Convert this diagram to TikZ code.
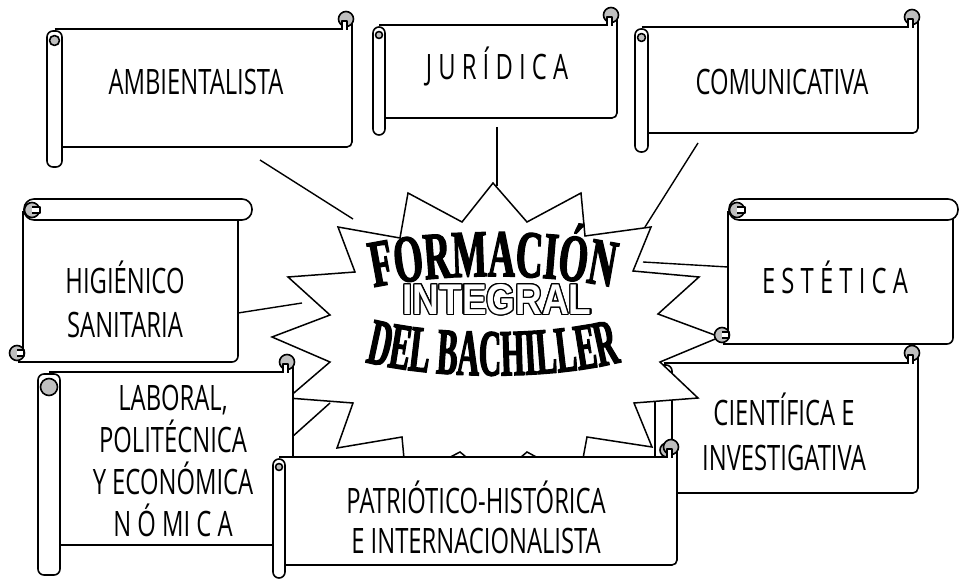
\documentclass[tikz,border=0pt]{standalone}
\usepackage{fontspec}
\usepackage{contour}
\usetikzlibrary{decorations.text}

\newfontfamily\scrollfont[FakeStretch=0.68]{Open Sans}
\newfontfamily\formfont[FakeStretch=0.56,BoldFeatures={FakeBold=1.8}]{Liberation Serif}
\newfontfamily\bachfont[FakeStretch=0.47,BoldFeatures={FakeBold=1.8}]{Liberation Serif}
\newfontfamily\integralfont[FakeStretch=0.86]{Liberation Sans}
\definecolor{curlgray}{gray}{0.75}

% banner scroll: left x, roll width, top y, right x, bottom y, roll end y
\newcommand\bannerscroll[6]{%
  \fill[white] (#1+#2,#3) rectangle (#4,#5);
  \draw[scroll] (#1+#2/2,#3) -- (#4-8,#3);
  \draw[scroll,rounded corners=5] (#4,#3-9) -- (#4,#5) -- (#1+#2,#5);
  \draw[scroll,fill=white,rounded corners=6] (#1,#3+2) rectangle (#1+#2,#6);
  \draw[scroll,fill=curlgray] (#1+#2/2,#3+#2/2+4) circle (#2/2-2.5);
  \draw[scroll,fill=curlgray] (#4-6,#3-10) circle (7.5);
  \draw[scroll,fill=white] (#4-10,#3+0.8) -- (#4-10,#3-8) -- (#4-5,#3-8) -- (#4-5,#3+0.8);
}
% page scroll: left x, top y, roll right x, body right x, bottom y
\newcommand\pagescroll[5]{%
  \fill[white] (#1,#2+10) rectangle (#4,#5);
  \draw[scroll,rounded corners=6] (#4,#2+15) -- (#4,#5) -- (#1-5,#5);
  \draw[scroll] (#1,#2+12) -- (#1,#5-12);
  \draw[scroll,fill=white,rounded corners=10] (#1+1,#2) rectangle (#3,#2+21);
  \draw[scroll,fill=curlgray] (#1+9,#2+11) circle (7.5);
  \draw[scroll,fill=white] (#1+9,#2+8) -- (#1+17,#2+8) -- (#1+17,#2+14) -- (#1+9,#2+14);
  \draw[scroll,fill=curlgray] (#1-6,#5-9) circle (7.5);
  \draw[scroll,fill=white] (#1-6,#5-12) -- (#1+1,#5-12) -- (#1+1,#5-6) -- (#1-6,#5-6);
}

\begin{document}
\begin{tikzpicture}[x=1pt,y=-1pt,
  scroll/.style={line width=1.6pt,line join=round},
  link/.style={line width=1.4pt},
  burst/.style={line width=1.5pt,line join=miter,fill=white},
  lbl/.style={font=\scrollfont\fontsize{35}{44}\selectfont,align=center,inner sep=0pt}]
\useasboundingbox (0,0) rectangle (962,583);

\coordinate (amb-end) at (260,160);
\coordinate (jur-end) at (497,127);
\coordinate (com-end) at (698,143);
\coordinate (hig-end) at (238,313);
\coordinate (est-end) at (728,267);
\coordinate (burst-nw) at (353,219);
\coordinate (burst-n) at (497,186);
\coordinate (burst-ne) at (645,227);
\coordinate (burst-w) at (302,303);
\coordinate (burst-e) at (643,262);

\draw[link] (amb-end) -- (burst-nw);
\draw[link] (jur-end) -- (burst-n);
\draw[link] (com-end) -- (burst-ne);
\draw[link] (hig-end) -- (burst-w);
\draw[link] (burst-e) -- (est-end);

\bannerscroll{47}{15}{29}{352}{147}{167}
\bannerscroll{373}{12}{25}{617}{118}{135}
\bannerscroll{635}{13}{27}{918}{133}{152}
\pagescroll{23}{199}{252}{238}{362}
\bannerscroll{655}{17}{363}{918}{493}{520}
\draw[scroll,fill=curlgray] (667,450) circle (7);

% the burst
\draw[burst] (493,183) -- (527,222) -- (581,193) -- (585,236) -- (651,227)
  -- (633,271) -- (699,277) -- (658,314) -- (720,337) -- (660,362)
  -- (698,398) -- (634,403) -- (652,447) -- (587,437) -- (579,480)
  -- (527,452) -- (494,480) -- (460,452) -- (406,480) -- (402,437)
  -- (337,448) -- (353,403) -- (288,398) -- (330,362) -- (272,337)
  -- (330,315) -- (288,277) -- (355,272) -- (338,227) -- (400,238)
  -- (408,193) -- (462,222) -- cycle;
\draw[burst] (330,403) -- (292,437);

\pagescroll{728}{199}{958}{953}{344}
\bannerscroll{38}{22}{372}{293}{545}{575}
\bannerscroll{273}{12}{457}{677}{565}{578}

\node[lbl] (amb) at (196,82) {AMBIENTALISTA};
\node[lbl] (jur) at (497,66) {J U R Í D I C A};
\node[lbl] (com) at (782,82) {COMUNICATIVA};
\node[lbl] (hig) at (125,299) {HIGIÉNICO\\SANITARIA};
\node[lbl] (est) at (835,277) {E S T É T I C A};
\node[lbl,font=\scrollfont\fontsize{35}{42}\selectfont] (lab) at (173,461)
  {LABORAL,\\POLITÉCNICA\\Y ECONÓMICA\\N Ó MI C A};
\node[lbl,font=\scrollfont\fontsize{35}{40}\selectfont] (pat) at (476,517)
  {PATRIÓTICO-HISTÓRICA\\E INTERNACIONALISTA};
\node[lbl,font=\scrollfont\fontsize{35}{45}\selectfont] (cie) at (784,432)
  {CIENTÍFICA E\\INVESTIGATIVA};

% title
\path[decorate,decoration={text along path,text align=center,
  text={|\formfont\bfseries\fontsize{67}{67}\selectfont|FORMACIÓN}}]
  (345,295) .. controls (420,270) and (566,270) .. (641,295);
\node[inner sep=0pt] (integral) at (497,300)
  {\integralfont\bfseries\fontsize{43}{43}\selectfont\contourlength{1.2pt}\textcolor{white}{\contour{black}{INTEGRAL}}};
\path[decorate,decoration={text along path,text align=center,
  text={|\bachfont\bfseries\fontsize{66}{66}\selectfont|DEL BACHILLER}}]
  (345,356) .. controls (420,382) and (566,382) .. (641,356);
\end{tikzpicture}
\end{document}
